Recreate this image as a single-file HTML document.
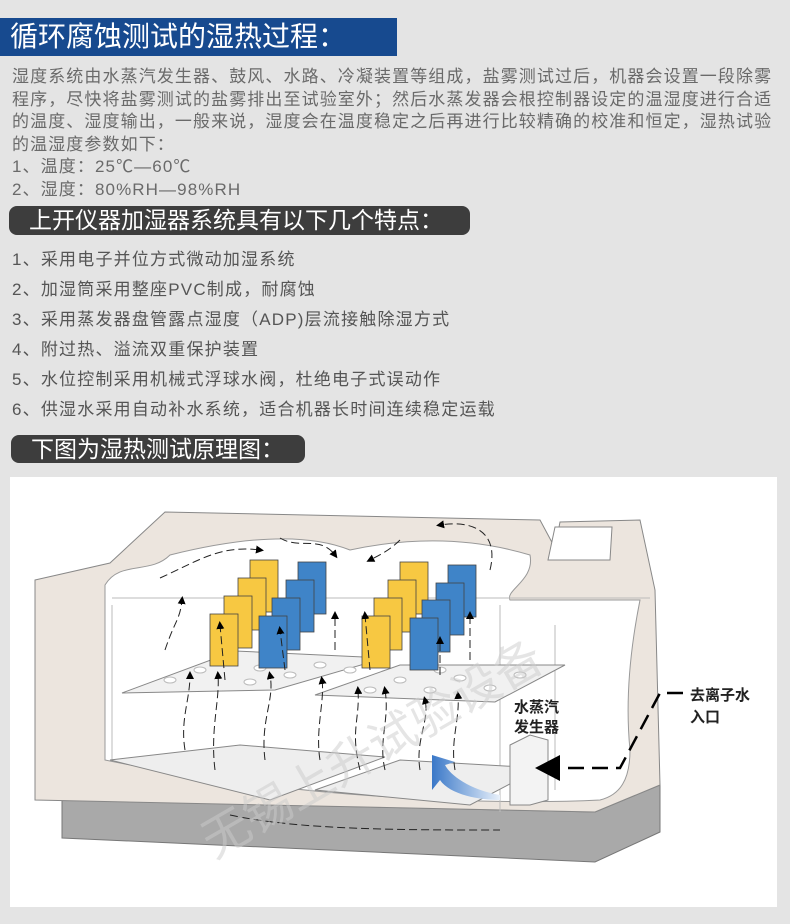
<!DOCTYPE html>
<html><head><meta charset="utf-8"><style>
*{margin:0;padding:0}
body{width:790px;height:924px;background:#e4e4e4;position:relative;overflow:hidden;font-family:"Liberation Sans","Noto Sans CJK SC",sans-serif}
.t{position:absolute;white-space:nowrap}
.h1{left:0;top:18px;width:397px;height:38px;background:#174a8f;color:#fff;font-size:28px;line-height:38px;padding-left:10px;box-sizing:border-box}
.p{left:12px;color:#6a6a6a;font-size:17px;letter-spacing:1.1px;line-height:22.5px}
.h2{background:#3d3d3d;color:#fff;border-radius:8px;font-size:23px;line-height:29px;box-sizing:border-box;padding-left:20px}
.li{left:12px;color:#555;font-size:17px;letter-spacing:1.2px}
</style></head><body>
<div class="t h1">循环腐蚀测试的湿热过程：</div>
<div class="t p" style="top:66px">湿度系统由水蒸汽发生器、鼓风、水路、冷凝装置等组成，盐雾测试过后，机器会设置一段除雾<br>程序，尽快将盐雾测试的盐雾排出至试验室外；然后水蒸发器会根控制器设定的温湿度进行合适<br>的温度、湿度输出，一般来说，湿度会在温度稳定之后再进行比较精确的校准和恒定，湿热试验<br>的温湿度参数如下：<br>1、温度：25℃—60℃<br>2、湿度：80%RH—98%RH</div>
<div class="t h2" style="left:9px;top:206px;width:461px;height:29px">上开仪器加湿器系统具有以下几个特点：</div>
<div class="t li" style="top:245px">1、采用电子并位方式微动加湿系统</div>
<div class="t li" style="top:275px">2、加湿筒采用整座PVC制成，耐腐蚀</div>
<div class="t li" style="top:305px">3、采用蒸发器盘管露点湿度（ADP)层流接触除湿方式</div>
<div class="t li" style="top:335px">4、附过热、溢流双重保护装置</div>
<div class="t li" style="top:365px">5、水位控制采用机械式浮球水阀，杜绝电子式误动作</div>
<div class="t li" style="top:395px">6、供湿水采用自动补水系统，适合机器长时间连续稳定运载</div>
<div class="t h2" style="left:11px;top:435px;width:294px;height:28px">下图为湿热测试原理图：</div>
<div class="t" style="left:10px;top:477px;width:767px;height:430px;background:#fff"></div>
<svg class="t" style="left:0;top:0" width="790" height="924" viewBox="0 0 790 924">
<defs><marker id="a" markerWidth="8" markerHeight="8" refX="4" refY="4" orient="auto"><path d="M0,0L8,4L0,8z" fill="#000"/></marker>
<linearGradient id="bg" x1="0" x2="1"><stop offset="0" stop-color="#3a78c8"/><stop offset="1" stop-color="#e8f0fa"/></linearGradient></defs>
<polygon points="62,800 62,838 595,862 660,832 660,785 595,812" fill="#a9a9a9" stroke="#777"/>
<polygon points="35,580 110,563 165,512 540,520 555,548 560,522 640,520 655,590 660,785 595,812 35,800" fill="#ece5de" stroke="#888"/>
<polygon points="555,527 612,527 610,560 548,560" fill="#fff" stroke="#888"/>
<path d="M105,585 C120,560 150,575 170,555 C230,540 300,530 350,550 C420,535 480,540 530,555 C535,580 505,590 510,600 L640,600 C630,650 625,700 630,750 C630,780 620,795 600,800 C500,805 300,800 105,760 Z" fill="#fff" stroke="#999"/>
<line x1="112" y1="598" x2="650" y2="598" stroke="#bbb"/>
<line x1="112" y1="605" x2="112" y2="760" stroke="#bbb"/>
<line x1="555" y1="625" x2="555" y2="790" stroke="#bbb"/>
<line x1="500" y1="605" x2="500" y2="812" stroke="#bbb"/>
<polygon points="110,760 240,745 385,757 270,800" fill="#eee" stroke="#888"/>
<polygon points="315,790 400,760 540,768 470,805" fill="#eee" stroke="#888"/>
<polygon points="122,693 235,651 385,658 275,690" fill="#f1f1f1" stroke="#888"/>
<polygon points="315,695 400,665 565,665 495,702" fill="#f1f1f1" stroke="#888"/>
<g fill="#fff" stroke="#bbb">
<ellipse cx="170" cy="680" rx="6" ry="3"/><ellipse cx="200" cy="670" rx="6" ry="3"/><ellipse cx="230" cy="662" rx="6" ry="3"/><ellipse cx="260" cy="668" rx="6" ry="3"/><ellipse cx="290" cy="675" rx="6" ry="3"/><ellipse cx="320" cy="665" rx="6" ry="3"/><ellipse cx="250" cy="682" rx="6" ry="3"/><ellipse cx="350" cy="670" rx="6" ry="3"/>
<ellipse cx="400" cy="680" rx="6" ry="3"/><ellipse cx="430" cy="690" rx="6" ry="3"/><ellipse cx="460" cy="678" rx="6" ry="3"/><ellipse cx="490" cy="688" rx="6" ry="3"/><ellipse cx="520" cy="675" rx="6" ry="3"/><ellipse cx="440" cy="670" rx="6" ry="3"/><ellipse cx="370" cy="690" rx="6" ry="3"/>
</g>
<g stroke="#444" stroke-width="0.8">
<rect x="250" y="560" width="28" height="52" fill="#f7c842"/><rect x="238" y="578" width="28" height="52" fill="#f7c842"/><rect x="224" y="596" width="28" height="52" fill="#f7c842"/><rect x="210" y="614" width="28" height="52" fill="#f7c842"/>
<rect x="298" y="562" width="28" height="52" fill="#3f84c8"/><rect x="286" y="580" width="28" height="52" fill="#3f84c8"/><rect x="272" y="598" width="28" height="52" fill="#3f84c8"/><rect x="259" y="616" width="28" height="52" fill="#3f84c8"/>
<rect x="400" y="562" width="28" height="52" fill="#f7c842"/><rect x="388" y="580" width="28" height="52" fill="#f7c842"/><rect x="374" y="598" width="28" height="52" fill="#f7c842"/><rect x="362" y="616" width="28" height="52" fill="#f7c842"/>
<rect x="448" y="565" width="28" height="52" fill="#3f84c8"/><rect x="436" y="583" width="28" height="52" fill="#3f84c8"/><rect x="422" y="600" width="28" height="52" fill="#3f84c8"/><rect x="410" y="618" width="28" height="52" fill="#3f84c8"/>
</g>
<g fill="none" stroke="#222" stroke-width="1" stroke-dasharray="8,4" marker-end="url(#a)">
<path d="M165,650 C175,620 180,620 182,600"/><path d="M225,680 L220,625"/><path d="M285,670 L280,630"/><path d="M335,650 L335,615"/>
<path d="M370,670 L365,615"/><path d="M440,675 L440,640"/><path d="M470,660 L470,615"/>
<path d="M185,750 C180,720 190,700 190,675"/><path d="M215,770 C210,730 220,700 218,675"/><path d="M265,760 C260,720 275,700 270,675"/><path d="M320,760 C315,730 325,700 322,680"/><path d="M360,770 C350,730 360,720 358,690"/><path d="M385,770 C378,740 390,720 385,690"/><path d="M420,770 C415,740 430,720 425,700"/><path d="M455,770 C450,740 460,720 458,695"/>
<path d="M160,578 C200,560 220,545 260,550"/><path d="M280,538 C300,550 320,535 335,555"/><path d="M400,540 C390,550 380,555 370,560"/><path d="M490,570 C500,530 470,520 440,525"/>
<path d="M230,815 C300,830 400,830 500,830" marker-end="none"/>
</g>
<path d="M500,795 C470,790 450,775 445,765 L455,762 L432,755 L432,790 L440,780 C450,795 480,800 500,800 Z" fill="url(#bg)"/>
<polygon points="510,745 530,735 548,740 548,800 530,805 510,805" fill="#f3f3f3" stroke="#888"/>
<path d="M683,693 L660,693 L620,768 L560,768" fill="none" stroke="#000" stroke-width="2.5" stroke-dasharray="16,8"/>
<polygon points="535,768 560,755 560,781" fill="#000"/>
<text x="150" y="780" font-size="48" fill="#ccc" opacity="0.5" transform="rotate(-30 330 700)" font-family="Noto Sans CJK SC,sans-serif">无锡上升试验设备</text>
<text x="514" y="712" font-size="15" font-weight="bold" fill="#222" font-family="Liberation Sans,Noto Sans CJK SC,sans-serif">水蒸汽</text>
<text x="514" y="732" font-size="15" font-weight="bold" fill="#222" font-family="Liberation Sans,Noto Sans CJK SC,sans-serif">发生器</text>
<text x="690" y="700" font-size="15" font-weight="bold" fill="#222" font-family="Liberation Sans,Noto Sans CJK SC,sans-serif">去离子水</text>
<text x="690" y="722" font-size="15" font-weight="bold" fill="#222" font-family="Liberation Sans,Noto Sans CJK SC,sans-serif">入口</text>
</svg>
</body></html>
